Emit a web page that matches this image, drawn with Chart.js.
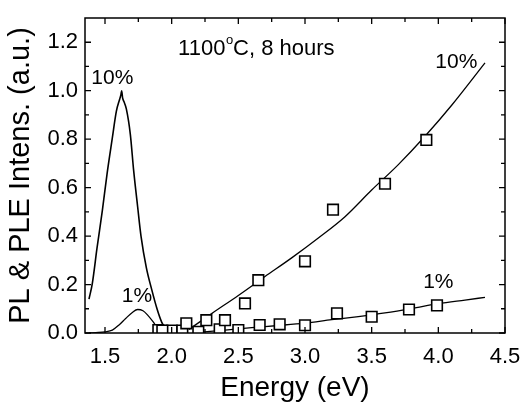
<!DOCTYPE html>
<html>
<head>
<meta charset="utf-8">
<script src="https://cdn.jsdelivr.net/npm/chart.js@4"></script>
<style>
  html, body { margin: 0; padding: 0; background: #fff; }
  #wrap { width: 525px; height: 405px; }
</style>
</head>
<body>
<div id="wrap"><canvas id="grafico"></canvas></div>
<script>
// Espectros PL (curvas continuas)
const plEnergia10 = [1.38, 1.405, 1.44, 1.48, 1.515, 1.555, 1.585, 1.61, 1.62, 1.625, 1.632, 1.642, 1.66, 1.69, 1.715, 1.745, 1.77, 1.81, 1.85, 1.89, 1.925, 1.96, 2.0];
const plIntens10  = [0.14, 0.205, 0.35, 0.505, 0.655, 0.805, 0.915, 0.965, 0.985, 1.0, 0.97, 0.955, 0.925, 0.82, 0.67, 0.52, 0.4, 0.27, 0.18, 0.1, 0.045, 0.012, 0];
const plEnergia1  = [1.38, 1.45, 1.5, 1.555, 1.605, 1.655, 1.705, 1.745, 1.785, 1.82, 1.86, 1.895, 1.935, 1.975];
const plIntens1   = [0, 0.002, 0.005, 0.012, 0.033, 0.06, 0.085, 0.097, 0.092, 0.074, 0.047, 0.02, 0.004, 0];

// PLE medido (cuadrados)
const pleEnergia10 = [1.93, 2.08, 2.11, 2.26, 2.40, 2.55, 2.65, 3.0, 3.21, 3.6, 3.91];
const pleIntens10  = [0.01, 0.01, 0.04, 0.053, 0.053, 0.122, 0.218, 0.296, 0.509, 0.616, 0.797];
const pleEnergia1  = [1.90, 2.0, 2.2, 2.36, 2.5, 2.66, 2.81, 3.0, 3.24, 3.5, 3.78, 3.99];
const pleIntens1   = [0.012, 0.01, 0.005, 0.015, 0.012, 0.033, 0.036, 0.032, 0.081, 0.067, 0.097, 0.114];

// Ajustes (líneas)
const ajusteEnergia10 = [2.13, 2.3, 2.5, 2.7, 2.9, 3.1, 3.3, 3.5, 3.7, 3.9, 4.1, 4.35];
const ajusteIntens10  = [0.015, 0.08, 0.155, 0.233, 0.31, 0.392, 0.48, 0.59, 0.695, 0.812, 0.94, 1.115];
const ajusteEnergia1  = [2.2, 2.4, 2.6, 2.8, 3.0, 3.2, 3.4, 3.6, 3.8, 4.0, 4.2, 4.35];
const ajusteIntens1   = [0.003, 0.012, 0.022, 0.031, 0.041, 0.055, 0.068, 0.083, 0.101, 0.121, 0.136, 0.147];

// Ticks
const xTicks = [1.5, 2.0, 2.5, 3.0, 3.5, 4.0, 4.5];
const xMinor = [1.75, 2.25, 2.75, 3.25, 3.75, 4.25];
const yTicks = [0, 0.2, 0.4, 0.6, 0.8, 1.0, 1.2];
const yMinor = [0.1, 0.3, 0.5, 0.7, 0.9, 1.1];

// Etiquetas en el gráfico [texto, x, y] en unidades de datos
const etiquetas = [
  ['10%', 1.555, 1.052],
  ['1%', 1.74, 0.152],
  ['10%', 4.135, 1.118],
  ['1%', 4.0, 0.21]
];

const puntos = (xs, ys) => xs.map((x, i) => ({ x: x, y: ys[i] }));
const FUENTE = '"Liberation Sans", Arial, sans-serif';

const marco = {
  id: 'marco',
  afterDatasetsDraw(chart) {
    const { ctx, chartArea: a, scales: { x, y } } = chart;
    ctx.save();
    ctx.strokeStyle = '#000';
    ctx.lineWidth = 1.5;
    ctx.strokeRect(a.left, a.top, a.right - a.left, a.bottom - a.top);
    ctx.lineWidth = 1.3;
    const tickX = (v, len) => {
      const px = x.getPixelForValue(v);
      ctx.beginPath();
      ctx.moveTo(px, a.bottom); ctx.lineTo(px, a.bottom - len);
      ctx.moveTo(px, a.top); ctx.lineTo(px, a.top + len);
      ctx.stroke();
    };
    const tickY = (v, len) => {
      const py = y.getPixelForValue(v);
      ctx.beginPath();
      ctx.moveTo(a.left, py); ctx.lineTo(a.left + len, py);
      ctx.moveTo(a.right, py); ctx.lineTo(a.right - len, py);
      ctx.stroke();
    };
    xTicks.forEach(v => tickX(v, 6));
    xMinor.forEach(v => tickX(v, 4));
    yTicks.forEach(v => tickY(v, 6));
    yMinor.forEach(v => tickY(v, 4));

    ctx.fillStyle = '#000';
    ctx.textAlign = 'center';
    ctx.textBaseline = 'middle';
    ctx.font = '21px ' + FUENTE;
    etiquetas.forEach(([t, ex, ey]) => {
      ctx.fillText(t, x.getPixelForValue(ex), y.getPixelForValue(ey));
    });

    // 1100°C, 8 hours con superíndice
    ctx.textAlign = 'left';
    ctx.textBaseline = 'alphabetic';
    const px0 = x.getPixelForValue(2.048);
    const py0 = y.getPixelForValue(1.18) + 8;
    ctx.font = '22px ' + FUENTE;
    ctx.fillText('1100', px0, py0);
    let w = ctx.measureText('1100').width;
    ctx.font = '13px ' + FUENTE;
    ctx.fillText('o', px0 + w + 0.5, py0 - 11);
    w += ctx.measureText('o').width + 0.5;
    ctx.font = '22px ' + FUENTE;
    ctx.fillText('C, 8 hours', px0 + w, py0);
    ctx.restore();
  }
};

const lineaBase = { showLine: true, pointRadius: 0, borderColor: '#000', borderWidth: 1.3, fill: false, cubicInterpolationMode: 'monotone' };
const cuadrado = { showLine: false, pointStyle: 'rect', pointRadius: 7.5, borderColor: '#000', borderWidth: 1.6, backgroundColor: '#fff' };

new Chart(document.getElementById('grafico'), {
  type: 'scatter',
  data: {
    datasets: [
      Object.assign({ label: 'PLE 10%', data: puntos(pleEnergia10, pleIntens10) }, cuadrado),
      Object.assign({ label: 'PLE 1%', data: puntos(pleEnergia1, pleIntens1) }, cuadrado),
      Object.assign({ label: 'Ajuste 10%', data: puntos(ajusteEnergia10, ajusteIntens10) }, lineaBase),
      Object.assign({ label: 'Ajuste 1%', data: puntos(ajusteEnergia1, ajusteIntens1) }, lineaBase),
      Object.assign({ label: 'PL 10%', data: puntos(plEnergia10, plIntens10) }, lineaBase, { borderWidth: 1.6 }),
      Object.assign({ label: 'PL 1%', data: puntos(plEnergia1, plIntens1) }, lineaBase)
    ]
  },
  options: {
    responsive: true,
    maintainAspectRatio: false,
    animation: false,
    layout: { padding: { top: 18, right: 20, left: 0, bottom: 0 } },
    plugins: { legend: { display: false }, tooltip: { enabled: false } },
    scales: {
      x: {
        type: 'linear', min: 1.35, max: 4.5,
        afterBuildTicks: s => { s.ticks = xTicks.map(v => ({ value: v })); },
        afterFit: s => { s.height = 72; s.paddingLeft = 0; s.paddingRight = 0; },
        grid: { display: false, drawTicks: false },
        border: { display: false },
        ticks: { color: '#000', font: { family: FUENTE, size: 22 }, padding: 11, maxRotation: 0, callback: v => v.toFixed(1) },
        title: { display: true, text: 'Energy (eV)', color: '#000', font: { family: FUENTE, size: 28 }, padding: { top: 0, bottom: 0 } }
      },
      y: {
        type: 'linear', min: 0, max: 1.3,
        afterBuildTicks: s => { s.ticks = yTicks.map(v => ({ value: v })); },
        afterFit: s => { s.width = 85; s.paddingTop = 0; s.paddingBottom = 0; },
        grid: { display: false, drawTicks: false },
        border: { display: false },
        ticks: { color: '#000', font: { family: FUENTE, size: 22 }, padding: 7, callback: v => v.toFixed(1) },
        title: { display: true, text: 'PL & PLE Intens. (a.u.)', color: '#000', font: { family: FUENTE, size: 29 }, padding: { top: 4, bottom: 0 } }
      }
    }
  },
  plugins: [marco]
});
</script>
</body>
</html>
